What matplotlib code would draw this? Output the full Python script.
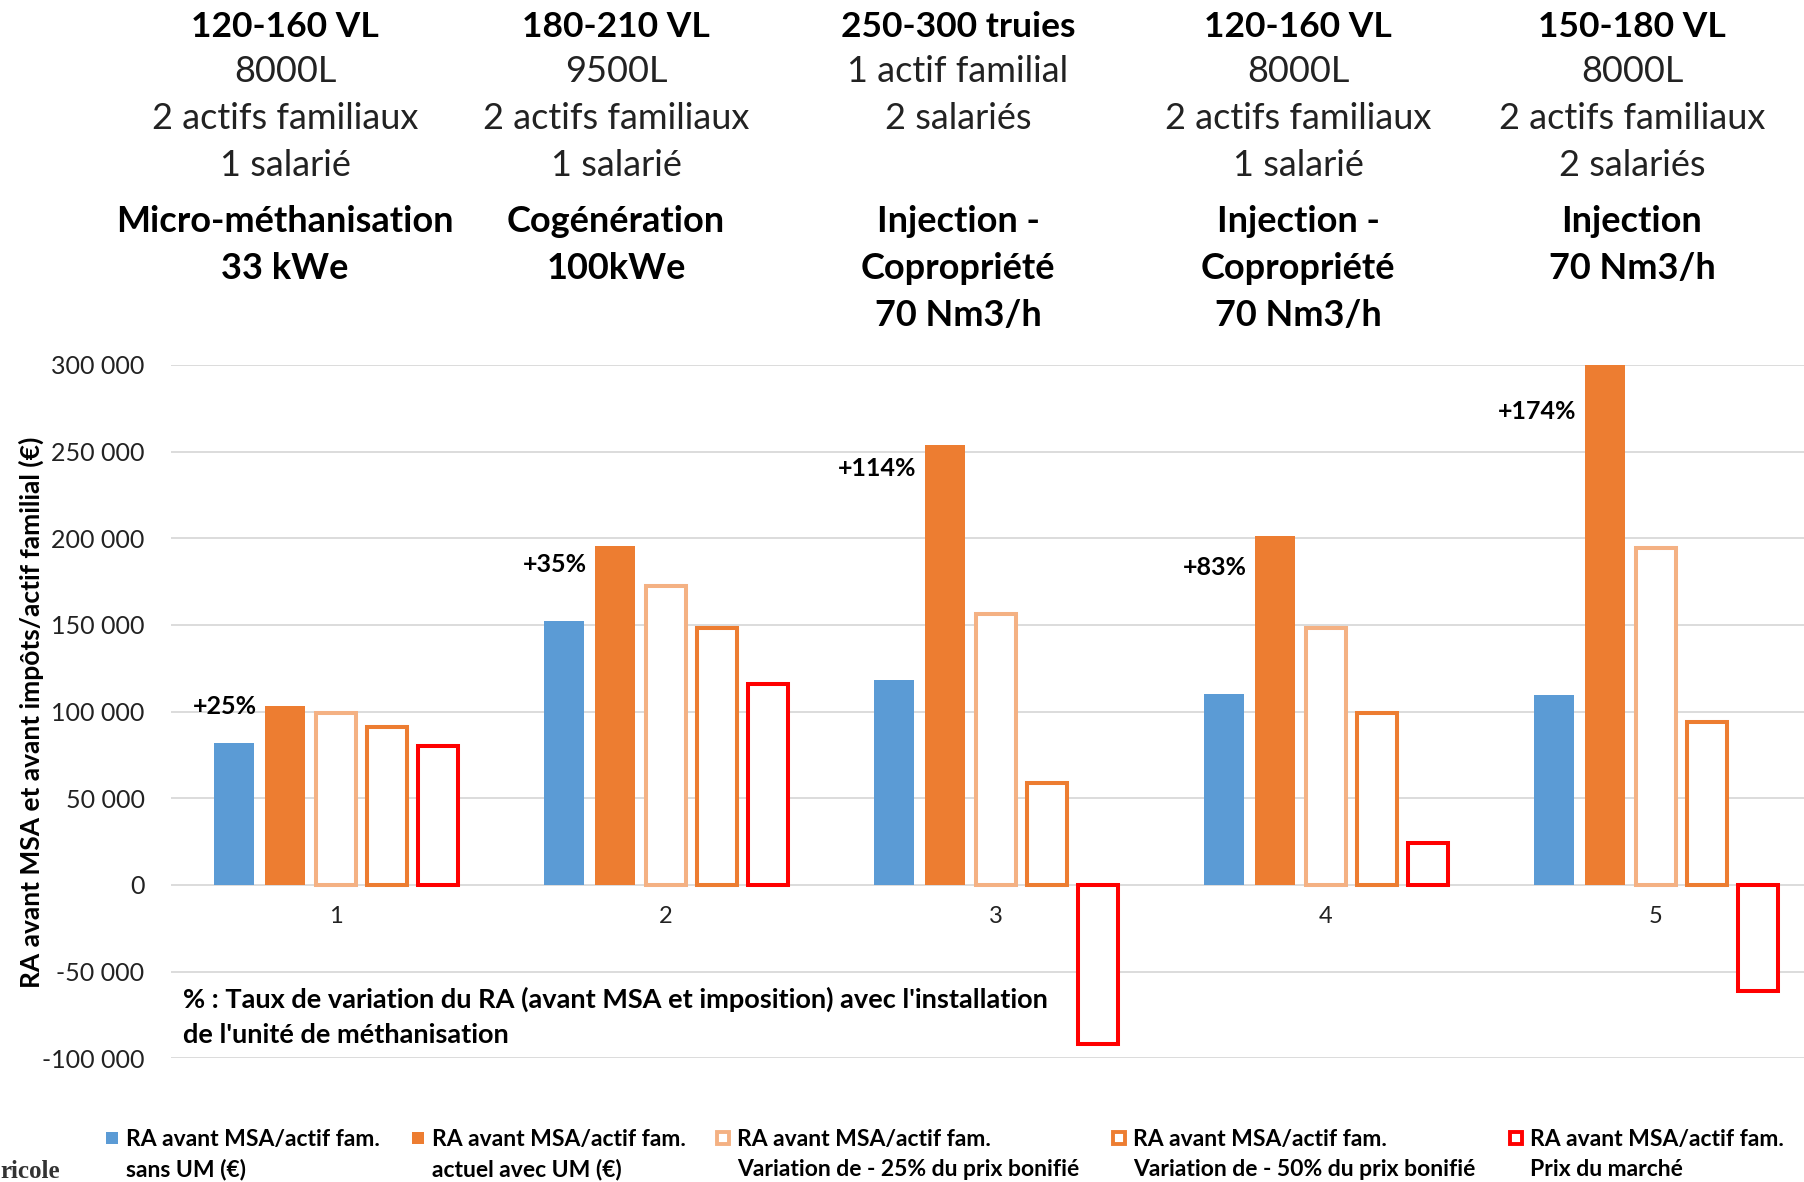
import matplotlib
matplotlib.use("Agg")
import matplotlib.pyplot as plt
from matplotlib.patches import Rectangle
from matplotlib.ticker import FuncFormatter
import numpy as np

plt.rcParams['font.family'] = ['Lato', 'DejaVu Sans']

# Résultat agricole par actif familial, 5 exploitations types
exploitations = ['1', '2', '3', '4', '5']
sans_um = [82000, 152500, 118000, 110000, 109500]
avec_um = [103000, 195500, 254000, 201500, 300000]
var_25 = [99000, 172500, 156500, 148500, 194500]
var_50 = [91000, 148500, 59000, 99500, 94000]
prix_marche = [80000, 116000, -92000, 24000, -61000]
taux_variation = ['+25%', '+35%', '+114%', '+83%', '+174%']
taux_y = [103000, 185000, 240000, 183000, 273000]

elevage = ['120-160 VL', '180-210 VL', '250-300 truies', '120-160 VL', '150-180 VL']
main_oeuvre = [['8000L', '2 actifs familiaux', '1 salarié'],
               ['9500L', '2 actifs familiaux', '1 salarié'],
               ['1 actif familial', '2 salariés'],
               ['8000L', '2 actifs familiaux', '1 salarié'],
               ['8000L', '2 actifs familiaux', '2 salariés']]
unite = [['Micro-méthanisation', '33 kWe'],
         ['Cogénération', '100kWe'],
         ['Injection -', 'Copropriété', '70 Nm3/h'],
         ['Injection -', 'Copropriété', '70 Nm3/h'],
         ['Injection', '70 Nm3/h']]

legende = ['RA avant MSA/actif fam.\nsans UM (€)',
           'RA avant MSA/actif fam.\nactuel avec UM (€)',
           'RA avant MSA/actif fam.\nVariation de - 25% du prix bonifié',
           'RA avant MSA/actif fam.\nVariation de - 50% du prix bonifié',
           'RA avant MSA/actif fam.\nPrix du marché']

BLEU = '#5B9BD5'
ORANGE = '#ED7D31'
ORANGE_CLAIR = '#F4B183'
ROUGE = '#FF0000'

W, H = 1804, 1182
fig = plt.figure(figsize=(W / 100, H / 100), dpi=100)

def fx(px):
    return px / W

def fy(py):
    return 1 - py / H

ax = fig.add_axes([fx(171), fy(1058.3), 1650 / W, (1058.3 - 365) / H])

x = np.arange(len(exploitations))
pas = 0.1545
larg = 0.121
lw = 2.9

ax.bar(x - 2 * pas, sans_um, larg, color=BLEU, zorder=3)
ax.bar(x - pas, avec_um, larg, color=ORANGE, zorder=3)
ax.bar(x, var_25, larg, facecolor='white', edgecolor=ORANGE_CLAIR, linewidth=lw, zorder=3)
ax.bar(x + pas, var_50, larg, facecolor='white', edgecolor=ORANGE, linewidth=lw, zorder=3)
ax.bar(x + 2 * pas, prix_marche, larg, facecolor='white', edgecolor=ROUGE, linewidth=lw, zorder=3)

for i, txt in enumerate(taux_variation):
    ax.text(x[i] - 0.24, taux_y[i], txt, ha='right', va='center',
            fontsize=18, fontweight='bold', color='black', zorder=4)

ax.set_xlim(-0.5, len(exploitations) - 0.5)
ax.set_ylim(-100000, 300000)
ax.set_yticks(np.arange(-100000, 300001, 50000))
ax.yaxis.set_major_formatter(FuncFormatter(lambda v, p: f'{int(v):,}'.replace(',', ' ')))
ax.set_xticks(x)
ax.set_xticklabels(exploitations)

for s in ['top', 'right', 'left']:
    ax.spines[s].set_visible(False)
ax.spines['bottom'].set_position(('data', 0))
ax.spines['bottom'].set_visible(False)
ax.tick_params(axis='y', length=0, pad=19, labelsize=18, labelcolor='#222222')
ax.tick_params(axis='x', length=0, pad=15, labelsize=17, labelcolor='#222222')
ax.yaxis.grid(True, color='#D9D9D9', linewidth=1.3)
ax.set_axisbelow(True)

fig.text(fx(31), fy(712), 'RA avant MSA et avant impôts/actif familial (€)',
         rotation=90, ha='center', va='center', fontsize=19, fontweight='bold')

# description des exploitations au-dessus du graphique
centres = [285, 616, 958, 1298, 1632]
lignes = [37, 82, 129, 176]
lignes_unite = [232, 279, 326]
for c, el, mo, un in zip(centres, elevage, main_oeuvre, unite):
    fig.text(fx(c), fy(lignes[0]), el, ha='center', va='baseline',
             fontsize=25.5, fontweight='bold')
    for j, t in enumerate(mo):
        fig.text(fx(c), fy(lignes[j + 1]), t, ha='center', va='baseline',
                 fontsize=26, color='#222222')
    for j, t in enumerate(un):
        fig.text(fx(c), fy(lignes_unite[j]), t, ha='center', va='baseline',
                 fontsize=26, fontweight='bold')

fig.text(fx(183), fy(1008), "% : Taux de variation du RA (avant MSA et imposition) avec l'installation",
         ha='left', va='baseline', fontsize=19.5, fontweight='bold')
fig.text(fx(183), fy(1043), "de l'unité de méthanisation",
         ha='left', va='baseline', fontsize=19.5, fontweight='bold')

# légende
styles = [dict(facecolor=BLEU, edgecolor='none'),
          dict(facecolor=ORANGE, edgecolor='none'),
          dict(facecolor='white', edgecolor=ORANGE_CLAIR, linewidth=2.8),
          dict(facecolor='white', edgecolor=ORANGE, linewidth=2.8),
          dict(facecolor='white', edgecolor=ROUGE, linewidth=2.8)]
marq_x = [112, 418, 723, 1119, 1516]
for mx, lab, st in zip(marq_x, legende, styles):
    fig.patches.append(Rectangle((fx(mx - 6), fy(1144)), 12 / W, 12 / H,
                                 transform=fig.transFigure, **st))
    l1, l2 = lab.split('\n')
    fig.text(fx(mx + 14), fy(1146), l1, ha='left', va='baseline',
             fontsize=16.5, fontweight='bold')
    fig.text(fx(mx + 14), fy(1176), l2, ha='left', va='baseline',
             fontsize=16.5, fontweight='bold')

fig.text(0, fy(1178), 'ricole', ha='left', va='baseline', fontsize=18,
         fontweight='bold', color='#333333', family=['Liberation Serif', 'DejaVu Serif'])

fig.savefig('out.png', dpi=100)
